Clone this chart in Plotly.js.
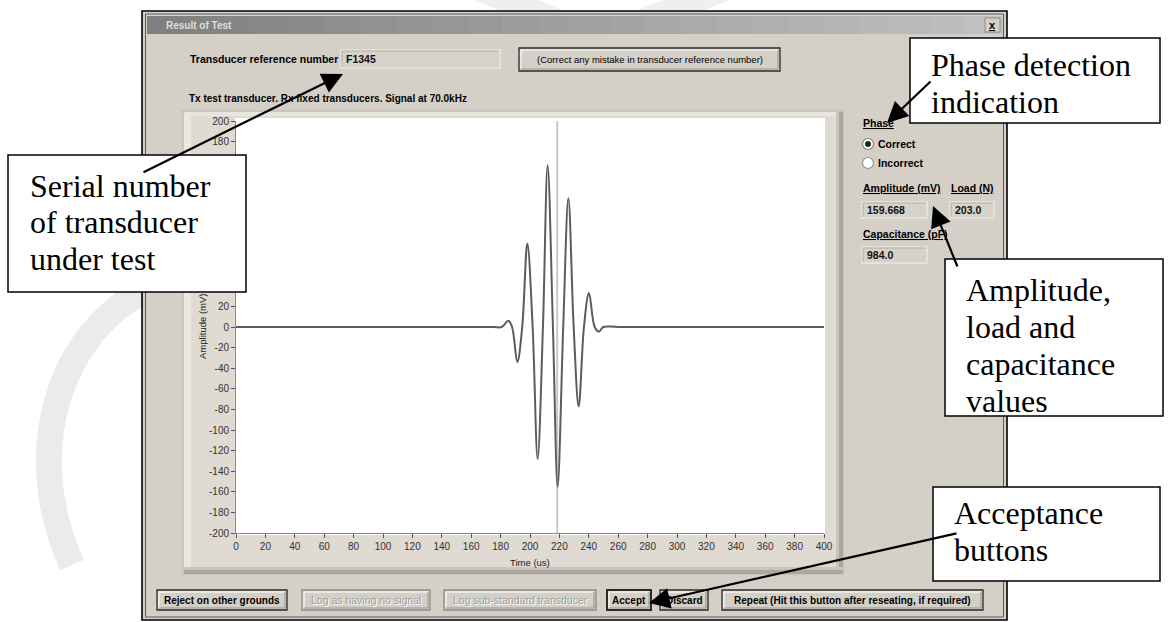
<!DOCTYPE html>
<html>
<head>
<meta charset="utf-8">
<script src="https://cdn.plot.ly/plotly-3.0.1.min.js"></script>
<style>html,body{margin:0;padding:0;background:#fff;}#chart{width:1172px;height:622px;}</style>
</head>
<body>
<div id="chart"></div>
<script>
// ---- data ----
const timeUs = [0, 100, 175, 180.7, 185.3, 187.8, 191.4, 194.7, 198.2, 201.8, 205.2, 208.8, 212.0, 215.6, 218.8, 222.6, 226.1, 229.7, 233.1, 236.7, 240.1, 244.0, 246.9, 249.9, 260, 400];
const amplitudeMv = [0, 0, 0, 0, 6, 0, -34, 0, 81, 0, -128, 0, 157, 0, -155, 0, 125, 0, -77, 0, 33, 0, -4.5, 0, 0, 0];
const cursorTimeUs = 218.5;
const cursorSpanMv = [-200, 200];
const xTickVals = [0,20,40,60,80,100,120,140,160,180,200,220,240,260,280,300,320,340,360,380,400];
const xTickLabels = ['0','20','40','60','80','100','120','140','160','180','200','220','240','260','280','300','320','340','360','380','400'];
const yTickVals = [200,180,160,140,120,100,80,60,40,20,0,-20,-40,-60,-80,-100,-120,-140,-160,-180,-200];
const yTickLabels = ['200','180','160','140','120','100','80','60','40','20','0','-20','-40','-60','-80','-100','-120','-140','-160','-180','-200'];
const xTitle = 'Time (us)';
const yTitle = 'Amplitude (mV)';
const transducerRef = 'F1345';
const amplitudeValue = '159.668';
const loadValue = '203.0';
const capacitanceValue = '984.0';

// ---- helpers (pixel -> paper) ----
const W = 1172, H = 622;
const X = p => p / W;
const Y = p => 1 - p / H;
const shapes = [];
const ann = [];
function rect(x0, y0, x1, y1, fill, lc, lw, layer) {
  shapes.push({type:'rect', xref:'paper', yref:'paper', x0:X(x0), x1:X(x1), y0:Y(y1), y1:Y(y0),
    fillcolor: fill || 'rgba(0,0,0,0)', line:{color: lc || 'rgba(0,0,0,0)', width: lw || 0}, layer: layer || 'below'});
}
function seg(x0, y0, x1, y1, c, w, layer) {
  shapes.push({type:'line', xref:'paper', yref:'paper', x0:X(x0), x1:X(x1), y0:Y(y0), y1:Y(y1),
    line:{color:c, width:w}, layer: layer || 'below'});
}
function circ(cx, cy, r, fill, lc, lw) {
  shapes.push({type:'circle', xref:'paper', yref:'paper', x0:X(cx-r), x1:X(cx+r), y0:Y(cy+r), y1:Y(cy-r),
    fillcolor: fill, line:{color: lc, width: lw}, layer:'below'});
}
function curve(d, c, w, layer) {
  let s = '';
  d.forEach(part => {
    s += part[0];
    for (let i = 1; i < part.length; i += 2) s += ' ' + X(part[i]).toFixed(5) + ',' + Y(part[i+1]).toFixed(5);
    s += ' ';
  });
  shapes.push({type:'path', xref:'paper', yref:'paper', path:s, line:{color:c, width:w}, layer: layer || 'below'});
}
const UI = 'Liberation Sans, Arial, sans-serif';
function txt(x, y, t, size, opts) {
  opts = opts || {};
  ann.push({xref:'paper', yref:'paper', x:X(x), y:Y(y), text:t, showarrow:false,
    xanchor: opts.anchor || 'left', yanchor:'middle', textangle: opts.angle || 0,
    font:{family: opts.family || UI, size: size, color: opts.color || '#000', weight: opts.bold ? 'bold' : 'normal'}, borderpad:0});
}
function arrow(tx, ty, sx, sy) {
  ann.push({xref:'paper', yref:'paper', x:X(tx), y:Y(ty), ax: sx - tx, ay: sy - ty, axref:'pixel', ayref:'pixel',
    text:'', showarrow:true, arrowhead:2, arrowsize:1.9, arrowwidth:2.2, arrowcolor:'#000', standoff:0});
}
function button(x0, y0, x1, y1, label, kind) {
  rect(x0, y0, x1, y1, '#d4d0c8', kind === 'disabled' ? '#8c8a86' : '#2a2a2a', kind === 'default' ? 2 : 1.3);
  seg(x0+2, y0+2, x1-2, y0+2, '#ffffff', 1);
  seg(x0+2, y0+2, x0+2, y1-2, '#ffffff', 1);
  seg(x0+2, y1-2, x1-2, y1-2, '#9a968e', 1);
  seg(x1-2, y0+2, x1-2, y1-2, '#9a968e', 1);
  const cx = (x0 + x1) / 2, cy = (y0 + y1) / 2;
  if (kind === 'disabled') {
    txt(cx+1, cy+1, label, 10.5, {anchor:'center', color:'#ffffff'});
    txt(cx, cy, label, 10.5, {anchor:'center', color:'#a09c96'});
  } else if (label) {
    txt(cx, cy, label, 10, {anchor:'center', bold:true});
  }
}
function field(x0, y0, x1, y1, value) {
  rect(x0, y0, x1, y1, '#d6d2ca', '#e9e6e0', 1.5);
  seg(x0+1, y0+1, x1-1, y0+1, '#b4b0a8', 1);
  seg(x0+1, y0+1, x0+1, y1-1, '#b4b0a8', 1);
  txt(x0+4, (y0+y1)/2, value, 10.5, {bold:true, color:'#111'});
}

// ---- faint watermark strokes ----
curve([['M',150,288],['C',60,330,20,450,72,565]], '#ebebeb', 26);
curve([['M',470,-15],['L',560,22]], '#efefef', 24);
curve([['M',735,-15],['L',640,22]], '#efefef', 24);

// ---- dialog window ----
rect(142, 11, 1007, 620, '#d4d0c8', '#000000', 1.6);
rect(145.5, 14, 1003.5, 617, 'rgba(0,0,0,0)', '#5a5a5a', 1);
const tbSteps = 24;
for (let i = 0; i < tbSteps; i++) {
  const xa = 147 + (1002 - 147) * i / tbSteps, xb = 147 + (1002 - 147) * (i + 1) / tbSteps + 0.5;
  const g = Math.round(128 + (192 - 128) * i / (tbSteps - 1));
  rect(xa, 16, xb, 34, 'rgb(' + g + ',' + g + ',' + g + ')');
}
txt(165, 25, 'Result of Test', 10, {bold:true, color:'#e2ded6'});
rect(985, 18, 1000, 32, '#d4d0c8', '#808080', 0.8);
txt(992.5, 25, '<u>x</u>', 11, {bold:true, anchor:'center'});

txt(189, 59, 'Transducer reference number', 10.5, {bold:true});
field(341, 50, 500, 68, transducerRef);
button(519, 48, 780, 71, '', 'normal');
txt(649.5, 59.5, '(Correct any mistake in transducer reference number)', 9.5, {anchor:'center'});
txt(188, 99, 'Tx test transducer. Rx fixed transducers. Signal at 70.0kHz', 10, {bold:true});

// ---- plot panel ----
rect(183, 111, 843, 574, '#dfdad2', '#b8b4ac', 1);
rect(184, 112, 191, 573, '#ebe8e2');
rect(184, 112, 842, 116, '#e8e5de');
rect(836, 112, 839, 573, '#c9c4bc');
rect(839, 112, 843, 574, '#aca79f');
rect(184, 567, 843, 570, '#c9c4bc');
rect(184, 570, 843, 574, '#aca79f');
rect(235, 118, 825, 535, '#ffffff');
txt(530, 562, xTitle, 9.5, {anchor:'center', color:'#222'});
txt(202, 327, yTitle, 9.5, {anchor:'center', angle:-90, color:'#222'});

// ---- right side controls ----
txt(862, 123, '<u>Phase</u>', 10.5, {bold:true});
circ(868, 144, 5.5, '#ffffff', '#808080', 1.2);
circ(868, 144, 2.8, '#0d2a10', '#0d2a10', 0.5);
txt(877, 144, 'Correct', 10.5, {bold:true});
circ(868, 163, 5.5, '#ffffff', '#909090', 1.2);
txt(877, 163, 'Incorrect', 10.5, {bold:true});
txt(862, 188, '<u>Amplitude (mV)</u>', 10.5, {bold:true});
txt(950, 188, '<u>Load (N)</u>', 10.5, {bold:true});
field(862, 202, 927, 218, amplitudeValue);
field(950, 202, 994, 218, loadValue);
txt(862, 234, '<u>Capacitance (pF)</u>', 10.5, {bold:true});
field(862, 247, 927, 263, capacitanceValue);

// ---- bottom buttons ----
button(157, 590, 287, 610, 'Reject on other grounds', 'normal');
button(302, 590, 430, 610, 'Log as having no signal', 'disabled');
button(444, 590, 596, 610, 'Log sub-standard transducer', 'disabled');
button(607, 590, 651, 610, 'Accept', 'default');
button(660, 590, 708, 610, 'Discard', 'normal');
button(722, 590, 983, 610, 'Repeat (Hit this button after reseating, if required)', 'normal');

// ---- callout boxes (above the plot) ----
const SERIF = 'Liberation Serif, Times New Roman, serif';
rect(8, 155, 246, 292, '#ffffff', '#000000', 1.5, 'above');
txt(29, 186, 'Serial number', 32, {family:SERIF});
txt(29, 222, 'of transducer', 32, {family:SERIF});
txt(29, 259, 'under test', 32, {family:SERIF});
rect(910, 38, 1160, 123, '#ffffff', '#000000', 1.5, 'above');
txt(930, 65, 'Phase detection', 32, {family:SERIF});
txt(930, 102, 'indication', 32, {family:SERIF});
rect(945, 259, 1163, 416, '#ffffff', '#000000', 1.5, 'above');
txt(965, 290, 'Amplitude,', 32, {family:SERIF});
txt(965, 327, 'load and', 32, {family:SERIF});
txt(965, 364, 'capacitance', 32, {family:SERIF});
txt(965, 401, 'values', 32, {family:SERIF});
rect(933, 487, 1160, 581, '#ffffff', '#000000', 1.5, 'above');
txt(953, 513, 'Acceptance', 32, {family:SERIF});
txt(953, 550, 'buttons', 32, {family:SERIF});

arrow(343, 74, 142, 173);
arrow(887, 123, 932, 80);
arrow(933, 206, 958, 268);
arrow(649, 603, 958, 533);

// ---- traces ----
const traces = [
  {x:[cursorTimeUs, cursorTimeUs], y:cursorSpanMv, mode:'lines', line:{color:'#c9c9c9', width:2}, hoverinfo:'skip'},
  {x:timeUs, y:amplitudeMv, mode:'lines', line:{color:'#5c5c5c', width:2, shape:'spline', smoothing:1}, hoverinfo:'skip'}
];

const tickFont = {family: UI, size: 10, color:'#333'};
const layout = {
  width: W, height: H,
  margin:{l:0, r:0, t:0, b:0},
  paper_bgcolor:'#ffffff', plot_bgcolor:'rgba(0,0,0,0)',
  showlegend:false,
  xaxis:{domain:[X(236), X(824)], range:[0,400], tickmode:'array', tickvals:xTickVals, ticktext:xTickLabels,
    ticks:'outside', ticklen:4, tickcolor:'#555', showline:true, linecolor:'#8a8a8a', linewidth:1,
    showgrid:false, zeroline:false, tickfont:tickFont, fixedrange:true},
  yaxis:{domain:[Y(533), Y(121)], range:[-200,200], tickmode:'array', tickvals:yTickVals, ticktext:yTickLabels,
    ticks:'outside', ticklen:4, tickcolor:'#555', showline:true, linecolor:'#8a8a8a', linewidth:1,
    showgrid:false, zeroline:false, tickfont:tickFont, fixedrange:true},
  shapes: shapes,
  annotations: ann
};
Plotly.newPlot('chart', traces, layout, {staticPlot:true, displayModeBar:false});
</script>
</body>
</html>
